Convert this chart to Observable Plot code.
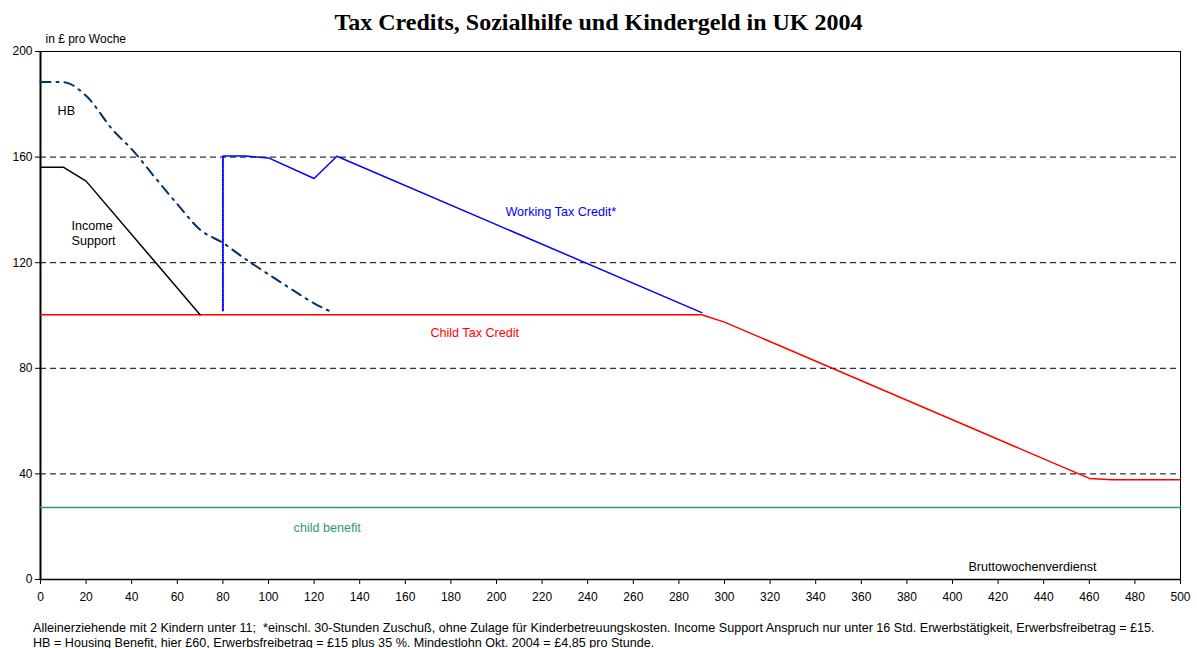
<!DOCTYPE html>
<html>
<head>
<meta charset="utf-8">
<script src="https://cdn.jsdelivr.net/npm/d3@7"></script>
<script src="https://cdn.jsdelivr.net/npm/@observablehq/plot@0.6"></script>
<style>
  body { margin: 0; background: #fff; font-family: Arial, "Liberation Sans", sans-serif; }
  #title { height: 30px; line-height: 44px; text-align: center; font-family: "Times New Roman", "Liberation Serif", serif; font-weight: bold; font-size: 24px; color: #000; width: 1197px; }
  #chart { height: 590px; }
  #foot { padding-top: 1px; padding-left: 33px; font-size: 12.6px; line-height: 15px; color: #000; white-space: nowrap; }
</style>
</head>
<body>
<div id="title">Tax Credits, Sozialhilfe und Kindergeld in UK 2004</div>
<div id="chart"></div>
<div id="foot">Alleinerziehende mit 2 Kindern unter 11;&nbsp; *einschl. 30-Stunden Zuschuß, ohne Zulage für Kinderbetreuungskosten. Income Support Anspruch nur unter 16 Std. Erwerbstätigkeit, Erwerbsfreibetrag = £15.<br>HB = Housing Benefit, hier £60, Erwerbsfreibetrag = £15 plus 35 %. Mindestlohn Okt. 2004 = £4,85 pro Stunde.</div>
<script>
// ---- data (weekly gross earnings in £ vs. £ per week) ----
const xTicks = d3.range(0, 501, 20);
const yTicks = [0, 40, 80, 120, 160, 200];
const gridValues = [40, 80, 120, 160];

const childBenefitX = [0, 500];
const childBenefitY = [27.3, 27.3];

const childTaxCreditX = [0, 290, 300, 460, 470, 500];
const childTaxCreditY = [100.3, 100.3, 97.5, 38.3, 37.8, 37.8];

const workingTaxCreditX = [80, 90, 100, 120, 130, 290];
const workingTaxCreditY = [160.4, 160.4, 159.7, 151.9, 160.3, 101.1];

const wtcStepX = [80, 80];
const wtcStepY = [101.9, 160.4];

const incomeSupportX = [0, 10, 20, 70];
const incomeSupportY = [156.2, 156.2, 150.9, 100.3];

const housingBenefitX = [0, 10, 20, 32, 40, 50, 60, 70, 80, 90, 100, 110, 120, 128];
const housingBenefitY = [188.4, 188.4, 183.2, 170, 163, 152.5, 142.2, 132.5, 127.5, 121.3, 115.6, 110, 104.6, 101.2];

const labelText = ["HB", "Income", "Support", "Working Tax Credit*", "Child Tax Credit", "child benefit", "Bruttowochenverdienst"];
const labelX = [7.5, 13.6, 13.6, 203.9, 171, 111, 407];
const labelY = [177.3, 134.1, 128.4, 139.4, 93.2, 19.7, 4.9];
const labelColor = ["#000000", "#000000", "#000000", "#0000ff", "#ff0000", "#339966", "#000000"];

// ---- build ----
const pts = (xs, ys) => xs.map((x, i) => ({x, y: ys[i]}));
const labels = labelText.map((t, i) => ({t, x: labelX[i], y: labelY[i], c: labelColor[i]}));

const chart = Plot.plot({
  width: 1197,
  height: 590,
  marginLeft: 40,
  marginRight: 17,
  marginTop: 21,
  marginBottom: 41,
  style: {fontFamily: "Arial, 'Liberation Sans', sans-serif", fontSize: "12px", color: "#000", background: "#fff"},
  x: {domain: [0, 500], ticks: xTicks, tickSize: 5, tickPadding: 8, label: null},
  y: {domain: [0, 200], ticks: yTicks, tickSize: 5, tickPadding: 3, label: null},
  marks: [
    Plot.ruleY(gridValues, {stroke: "#000", strokeWidth: 1, strokeDasharray: "6,4"}),
    Plot.frame({stroke: "#000", strokeWidth: 1}),
    Plot.ruleX([0], {stroke: "#000", strokeWidth: 2}),
    Plot.ruleY([0], {stroke: "#000", strokeWidth: 1.5}),
    Plot.line(pts(childBenefitX, childBenefitY), {x: "x", y: "y", stroke: "#339966", strokeWidth: 1.5}),
    Plot.line(pts(childTaxCreditX, childTaxCreditY), {x: "x", y: "y", stroke: "#ff0000", strokeWidth: 1.5}),
    Plot.line(pts(incomeSupportX, incomeSupportY), {x: "x", y: "y", stroke: "#000000", strokeWidth: 1.5}),
    Plot.line(pts(housingBenefitX, housingBenefitY), {x: "x", y: "y", stroke: "#003366", strokeWidth: 2, strokeDasharray: "10,6,2,6", curve: "monotone-x"}),
    Plot.line(pts(wtcStepX, wtcStepY), {x: "x", y: "y", stroke: "#0000ff", strokeWidth: 2, strokeDasharray: "1,1.5"}),
    Plot.line(pts(workingTaxCreditX, workingTaxCreditY), {x: "x", y: "y", stroke: "#0000ff", strokeWidth: 1.5}),
    Plot.text(labels, {x: "x", y: "y", text: "t", fill: "c", textAnchor: "start", fontSize: 12.6}),
    Plot.text(["in £ pro Woche"], {frameAnchor: "top-left", dx: 5, dy: -17, textAnchor: "start", fontSize: 12, fill: "#000"})
  ]
});
document.getElementById("chart").appendChild(chart);
</script>
</body>
</html>
